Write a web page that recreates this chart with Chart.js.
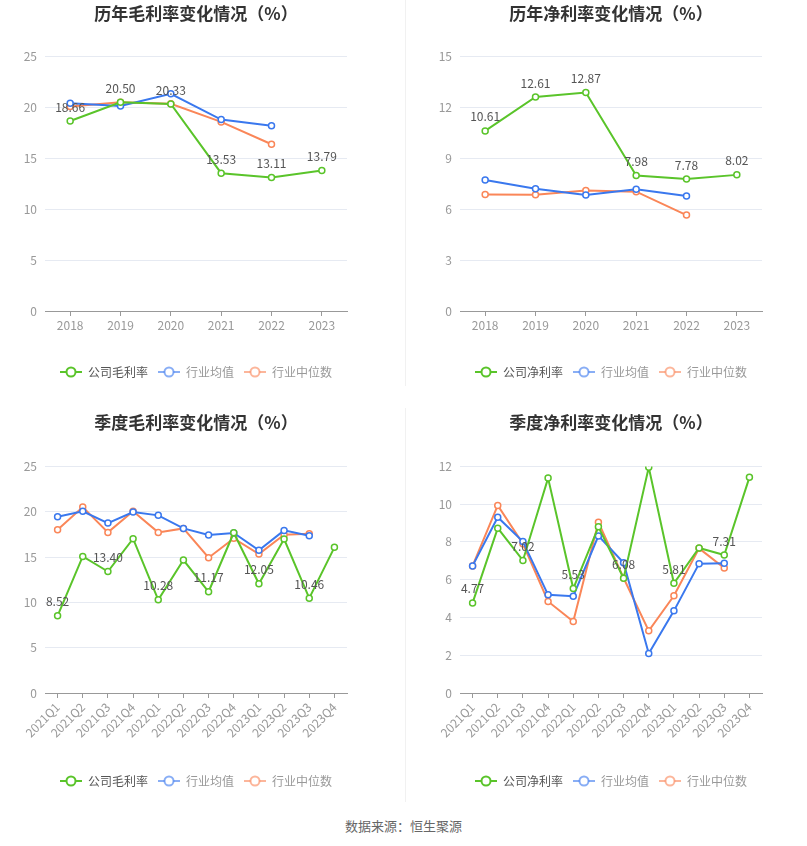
<!DOCTYPE html>
<html lang="zh">
<head>
<meta charset="UTF-8">
<title>毛利率与净利率变化情况</title>
<style>
  body { margin: 0; background: #fff; width: 807px; height: 846px; position: relative; overflow: hidden; font-family: "Noto Sans CJK SC", sans-serif; }
  canvas { position: absolute; }
  .divider { position: absolute; left: 405px; width: 1px; background: #f1f1f1; }
  #source { position: absolute; top: 816px; left: 0; width: 807px; text-align: center; font-size: 13px; color: #666; }
</style>
</head>
<body>
<canvas id="c1" width="400" height="388" style="left:0;top:0"></canvas>
<canvas id="c2" width="404" height="388" style="left:403px;top:0"></canvas>
<canvas id="c3" width="400" height="388" style="left:0;top:409px"></canvas>
<canvas id="c4" width="404" height="388" style="left:403px;top:409px"></canvas>
<div class="divider" style="top:0;height:386px"></div>
<div class="divider" style="top:408px;height:394px"></div>
<div id="source">数据来源：恒生聚源</div>

<script src="https://cdn.jsdelivr.net/npm/chart.js"></script>
<script>
// 年度
const years = ['2018', '2019', '2020', '2021', '2022', '2023'];
const grossCompany = [18.66, 20.50, 20.33, 13.53, 13.11, 13.79];
const grossAvg = [20.40, 20.14, 21.33, 18.80, 18.18, null];
const grossMedian = [20.08, 20.50, 20.34, 18.57, 16.37, null];
const netCompany = [10.61, 12.61, 12.87, 7.98, 7.78, 8.02];
const netAvg = [7.72, 7.20, 6.83, 7.17, 6.77, null];
const netMedian = [6.87, 6.85, 7.10, 7.03, 5.65, null];

// 季度
const quarters = ['2021Q1', '2021Q2', '2021Q3', '2021Q4', '2022Q1', '2022Q2', '2022Q3', '2022Q4', '2023Q1', '2023Q2', '2023Q3', '2023Q4'];
const qGrossCompany = [8.52, 15.07, 13.40, 17.02, 10.28, 14.67, 11.17, 17.68, 12.05, 16.99, 10.46, 16.07];
const qGrossAvg = [19.45, 20.04, 18.75, 19.96, 19.60, 18.16, 17.43, 17.65, 15.74, 17.94, 17.35, null];
const qGrossMedian = [18.01, 20.51, 17.72, 20.04, 17.72, 18.16, 14.93, 17.06, 15.33, 17.46, 17.57, null];
const qNetCompany = [4.77, 8.73, 7.02, 11.38, 5.53, 8.80, 6.08, 11.95, 5.81, 7.68, 7.31, 11.42];
const qNetAvg = [6.73, 9.31, 8.02, 5.20, 5.13, 8.32, 6.90, 2.09, 4.35, 6.85, 6.87, null];
const qNetMedian = [6.73, 9.93, 7.90, 4.85, 3.79, 9.04, 6.09, 3.29, 5.15, 7.66, 6.62, null];

const GREEN = '#5ac42a', BLUE = '#3a78ee', ORANGE = '#fa8658';

Chart.defaults.font.family = '"Noto Sans CJK SC", "Noto Sans", sans-serif';
Chart.defaults.animation = false;

// 折线+空心圆的图例图标
function legendIcon(color, alpha) {
  const c = document.createElement('canvas');
  c.width = 22; c.height = 12;
  const g = c.getContext('2d');
  g.globalAlpha = alpha;
  g.strokeStyle = color;
  g.lineWidth = 2;
  g.beginPath(); g.moveTo(0, 6); g.lineTo(22, 6); g.stroke();
  g.globalAlpha = 1;
  g.beginPath(); g.arc(11, 6, 4.5, 0, Math.PI * 2);
  g.fillStyle = '#fff'; g.fill();
  g.globalAlpha = alpha; g.stroke();
  return c;
}

// 公司数据的数值标签
const valueLabels = {
  id: 'valueLabels',
  afterDatasetsDraw(chart, args, opts) {
    const meta = chart.getDatasetMeta(0);
    const data = chart.data.datasets[0].data;
    const ctx = chart.ctx;
    ctx.save();
    ctx.font = '12px "Noto Sans CJK SC", sans-serif';
    ctx.fillStyle = '#555';
    ctx.textAlign = 'center';
    ctx.textBaseline = 'middle';
    opts.indices.forEach(i => {
      const pt = meta.data[i];
      ctx.fillText(data[i].toFixed(2), pt.x, pt.y - 14);
    });
    ctx.restore();
  }
};

function series(label, data, color) {
  return {
    label: label,
    data: data,
    borderColor: color,
    backgroundColor: '#fff',
    borderWidth: 2,
    pointRadius: 3,
    pointBorderWidth: 1.5,
    pointBackgroundColor: '#fff',
    pointBorderColor: color,
    tension: 0
  };
}

function makeChart(id, title, labels, company, avg, median, companyName, yMax, yStep, labelIdx, cfg) {
  const iconColors = [[GREEN, 1], [BLUE, 0.6], [ORANGE, 0.6]];
  const textColors = ['#555', '#999', '#999'];
  new Chart(document.getElementById(id), {
    type: 'line',
    data: {
      labels: labels,
      datasets: [
        series(companyName, company, GREEN),
        series('行业均值', avg, BLUE),
        series('行业中位数', median, ORANGE)
      ]
    },
    plugins: [valueLabels],
    options: {
      responsive: false,
      layout: { padding: { left: 0, right: cfg.right, top: 0, bottom: 0 } },
      scales: {
        x: {
          offset: true,
          grid: { drawOnChartArea: false, drawTicks: true, tickLength: 5, color: '#999' },
          border: { color: '#999' },
          ticks: {
            color: '#999', font: { size: 12 }, padding: 2,
            maxRotation: cfg.rotate, minRotation: cfg.rotate, autoSkip: false
          },
          afterFit(scale) { scale.height = cfg.xHeight; }
        },
        y: {
          min: 0, max: yMax,
          ticks: { stepSize: yStep, color: '#999', font: { size: 12 }, padding: 8 },
          grid: { color: '#e6eaf2', drawTicks: false },
          border: { display: false },
          afterFit(scale) { scale.width = cfg.left; }
        }
      },
      plugins: {
        title: {
          display: true, text: title, fullSize: false,
          color: '#333', font: { size: 17, weight: 'bold' },
          padding: { top: 3, bottom: cfg.titleGap }
        },
        legend: {
          position: 'bottom', fullSize: false,
          labels: {
            usePointStyle: true, pointStyleWidth: 22, padding: 10,
            font: { size: 12 },
            generateLabels(chart) {
              return Chart.defaults.plugins.legend.labels.generateLabels(chart).map((item, i) => {
                item.pointStyle = legendIcon(iconColors[i][0], iconColors[i][1]);
                item.fontColor = textColors[i];
                return item;
              });
            }
          }
        },
        tooltip: { enabled: false },
        valueLabels: { indices: labelIdx }
      }
    }
  });
}

const allYears = [0, 1, 2, 3, 4, 5];
const oddQuarters = [0, 2, 4, 6, 8, 10];

makeChart('c1', '历年毛利率变化情况（%）', years, grossCompany, grossAvg, grossMedian, '公司毛利率',
  25, 5, allYears, { left: 45, right: 53, xHeight: 45, rotate: 0, titleGap: 33 });
makeChart('c2', '历年净利率变化情况（%）', years, netCompany, netAvg, netMedian, '公司净利率',
  15, 3, allYears, { left: 57, right: 45, xHeight: 45, rotate: 0, titleGap: 33 });
makeChart('c3', '季度毛利率变化情况（%）', quarters, qGrossCompany, qGrossAvg, qGrossMedian, '公司毛利率',
  25, 5, oddQuarters, { left: 45, right: 53, xHeight: 72, rotate: 45, titleGap: 34 });
makeChart('c4', '季度净利率变化情况（%）', quarters, qNetCompany, qNetAvg, qNetMedian, '公司净利率',
  12, 2, oddQuarters, { left: 57, right: 45, xHeight: 72, rotate: 45, titleGap: 34 });
</script>
</body>
</html>
